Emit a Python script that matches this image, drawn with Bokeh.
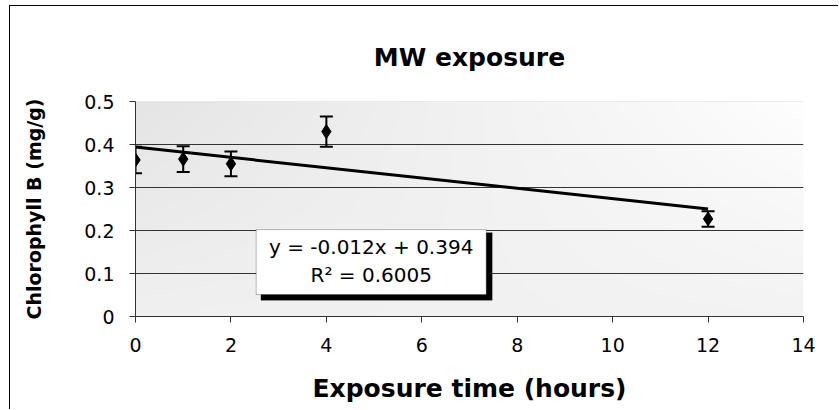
import numpy as np
from bokeh.plotting import figure
from bokeh.models import (ColumnDataSource, Range1d, FixedTicker, Whisker, TeeHead,
                          BoxAnnotation, Label, Span)
from bokeh.embed import file_html
from bokeh.resources import INLINE

# ---- data ----
time_h = [0, 1, 2, 4, 12]
chl_b = [0.364, 0.366, 0.355, 0.430, 0.227]
chl_err = [0.031, 0.030, 0.029, 0.035, 0.018]

trend_slope = -0.012
trend_intercept = 0.394
trend_x = [0, 12]

x_ticks = [0, 2, 4, 6, 8, 10, 12, 14]
y_ticks = [0, 0.1, 0.2, 0.3, 0.4, 0.5]
y_tick_labels = ["0", "0.1", "0.2", "0.3", "0.4", "0.5"]

title_text = "MW exposure"
x_label = "Exposure time (hours)"
y_label = "Chlorophyll B (mg/g)"
eq_line1 = "y = -0.012x + 0.394"
eq_line2 = "R\u00b2 = 0.6005"

# ---- figure ----
FONT = "DejaVu Sans"
p = figure(width=829, height=404, x_range=Range1d(x_ticks[0], x_ticks[-1]),
           y_range=Range1d(y_ticks[0], y_ticks[-1]),
           output_backend="svg", toolbar_location=None,
           min_border_left=125, min_border_right=36, min_border_top=95,
           min_border_bottom=94)
p.styles = {"margin-left": "9px", "margin-top": "5px",
            "border-left": "1px solid #000", "border-top": "1px solid #000"}
p.outline_line_color = None
p.background_fill_color = "white"
p.border_fill_color = "white"

# gradient background of plot area (bilinear between corner greys)
tl, tr, bl, br = 229.0, 254.0, 240.0, 243.0
ny, nx = 100, 300
gx = np.linspace(0, 1, nx)[None, :]
gy = np.linspace(0, 1, ny)[:, None]  # row 0 = bottom
gray = (bl * (1 - gx) + br * gx) * (1 - gy) + (tl * (1 - gx) + tr * gx) * gy
gray = np.clip(gray, 0, 255).astype(np.uint8)
img = np.empty((ny, nx), dtype=np.uint32)
view = img.view(dtype=np.uint8).reshape((ny, nx, 4))
view[:, :, 0] = gray
view[:, :, 1] = gray
view[:, :, 2] = gray
view[:, :, 3] = 255
p.image_rgba(image=[img], x=x_ticks[0], y=y_ticks[0], dw=x_ticks[-1] - x_ticks[0],
             dh=y_ticks[-1] - y_ticks[0], level="image")

# title
p.title.text = title_text
p.title.align = "center"
p.title.text_font = FONT
p.title.text_font_size = "25px"
p.title.text_font_style = "bold"
p.title.text_color = "black"
p.title.standoff = 60

# axes
p.xgrid.visible = False
p.ygrid.ticker = FixedTicker(ticks=y_ticks[1:-1])
p.ygrid.grid_line_color = "#333333"
p.ygrid.grid_line_width = 1
p.add_layout(Span(location=y_ticks[-1], dimension="width", line_color="#d8d8d8", line_width=1))

p.xaxis.ticker = FixedTicker(ticks=x_ticks)
p.yaxis.ticker = FixedTicker(ticks=y_ticks)
p.yaxis.major_label_overrides = {t: l for t, l in zip(y_ticks, y_tick_labels)}
for ax in (p.xaxis[0], p.yaxis[0]):
    ax.axis_line_color = "#333333"
    ax.major_tick_line_color = "#333333"
    ax.major_tick_in = 0
    ax.major_tick_out = 6
    ax.minor_tick_line_color = None
    ax.major_label_text_font = FONT
    ax.major_label_text_font_size = "19px"
    ax.major_label_text_color = "black"
    ax.axis_label_text_font = FONT
    ax.axis_label_text_font_style = "bold"
    ax.axis_label_text_color = "black"
p.xaxis.major_label_standoff = 15
p.yaxis.major_label_standoff = 15
p.xaxis.axis_label = x_label
p.xaxis.axis_label_text_font_size = "25px"
p.xaxis.axis_label_standoff = 19
p.yaxis.axis_label = y_label
p.yaxis.axis_label_text_font_size = "19px"
p.yaxis.axis_label_standoff = 36

# trendline
trend_y = [trend_intercept + trend_slope * x for x in trend_x]
p.line(trend_x, trend_y, line_color="black", line_width=3)

# error bars and markers
src = ColumnDataSource(dict(
    x=time_h, y=chl_b,
    upper=[v + e for v, e in zip(chl_b, chl_err)],
    lower=[v - e for v, e in zip(chl_b, chl_err)],
))
w = Whisker(source=src, base="x", upper="upper", lower="lower",
            line_color="black", line_width=2,
            upper_head=TeeHead(size=13, line_width=2, line_color="black"),
            lower_head=TeeHead(size=13, line_width=2, line_color="black"))
p.add_layout(w)
p.scatter("x", "y", source=src, marker="diamond", size=14, fill_color="black",
          line_color="black")

# equation box with shadow
box_l, box_r, box_t, box_b = 2.53, 7.35, 0.202, 0.051
p.add_layout(BoxAnnotation(left=box_l + 0.10, right=box_r + 0.125, top=box_t - 0.007,
                           bottom=box_b - 0.013, fill_color="black", fill_alpha=1,
                           line_color="black", level="annotation"))
p.add_layout(BoxAnnotation(left=box_l, right=box_r, top=box_t, bottom=box_b,
                           fill_color="white", fill_alpha=1, line_color="#222222",
                           line_width=1, level="annotation"))
cx = (box_l + box_r) / 2
p.add_layout(Label(x=cx, y=0.161, text=eq_line1, text_align="center",
                   text_baseline="middle", text_font=FONT, text_font_size="20px",
                   text_color="black"))
p.add_layout(Label(x=cx, y=0.097, text=eq_line2, text_align="center",
                   text_baseline="middle", text_font=FONT, text_font_size="20px",
                   text_color="black"))

open("out.html", "w").write(file_html(p, INLINE))
